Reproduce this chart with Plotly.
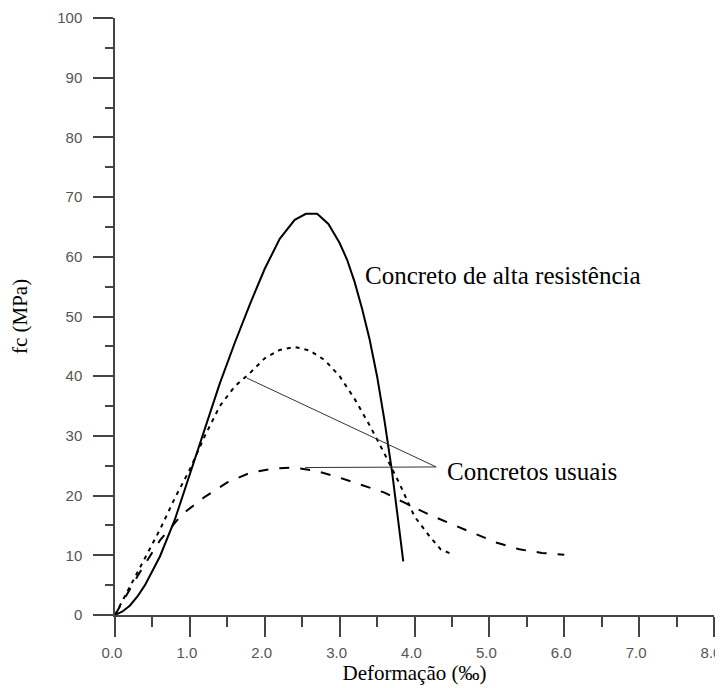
import plotly.graph_objects as go

# Concreto de alta resistência (solid)
high_x = [0.0, 0.1, 0.2, 0.3, 0.4, 0.6, 0.8, 1.0, 1.2, 1.4, 1.6, 1.8, 2.0, 2.2, 2.4, 2.55, 2.7,
          2.85, 3.0, 3.1, 3.2, 3.3, 3.4, 3.5, 3.6, 3.7, 3.78, 3.85]
high_y = [0.0, 0.6, 1.6, 3.1, 5.0, 9.8, 16.0, 23.5, 31.2, 38.8, 45.6, 52.0, 58.0, 63.0, 66.2, 67.2, 67.2,
          65.5, 62.3, 59.5, 55.8, 51.3, 46.2, 40.0, 32.5, 24.0, 16.0, 9.0]

# Concreto usual ~45 MPa (dotted)
mid_x = [0.0, 0.2, 0.4, 0.6, 0.8, 1.0, 1.2, 1.4, 1.6, 1.8, 2.0, 2.2, 2.4, 2.6, 2.8,
         3.0, 3.2, 3.4, 3.6, 3.8, 4.0, 4.2, 4.35, 4.5]
mid_y = [0.0, 4.7, 9.4, 14.3, 19.6, 24.4, 30.0, 35.0, 38.3, 40.5, 43.0, 44.4, 44.9, 44.3, 42.7,
         40.0, 36.2, 31.8, 27.0, 22.0, 16.5, 13.2, 11.0, 10.2]

# Concreto usual ~25 MPa (dashed)
low_x = [0.0, 0.3, 0.6, 0.9, 1.2, 1.5, 1.8, 2.1, 2.4, 2.7, 3.0, 3.3, 3.6, 3.9, 4.2,
         4.5, 4.8, 5.1, 5.4, 5.7, 6.0]
low_y = [0.0, 6.5, 12.5, 16.9, 19.8, 22.2, 23.8, 24.5, 24.7, 24.1, 23.0, 21.8, 20.5, 18.6, 16.8,
         15.2, 13.6, 12.1, 11.0, 10.4, 10.1]

# Leader lines for "Concretos usuais"
leader1_x = [1.76, 4.29]
leader1_y = [39.7, 24.8]
leader2_x = [2.54, 4.29]
leader2_y = [24.7, 24.8]

label_high = "Concreto de alta resistência"
label_high_pos = (3.31, 56.8)
label_usual = "Concretos usuais"
label_usual_pos = (4.41, 24.0)

x_title = "Deformação (‰)"
y_title = "fc (MPa)"

fig = go.Figure()
fig.add_trace(go.Scatter(x=high_x, y=high_y, mode="lines",
                         line=dict(color="black", width=2), showlegend=False))
fig.add_trace(go.Scatter(x=mid_x, y=mid_y, mode="lines",
                         line=dict(color="black", width=2, dash="4px,5px"), showlegend=False))
fig.add_trace(go.Scatter(x=low_x, y=low_y, mode="lines",
                         line=dict(color="black", width=2, dash="10px,11px"), showlegend=False))
fig.add_trace(go.Scatter(x=leader1_x, y=leader1_y, mode="lines",
                         line=dict(color="#333333", width=1), showlegend=False))
fig.add_trace(go.Scatter(x=leader2_x, y=leader2_y, mode="lines",
                         line=dict(color="#333333", width=1), showlegend=False))

serif = "Liberation Serif, Times New Roman, serif"
tickfont = dict(family="Liberation Sans, Arial, sans-serif", size=15, color="#555555")

fig.add_annotation(x=label_high_pos[0], y=label_high_pos[1], text=label_high,
                   showarrow=False, xanchor="left", yanchor="middle",
                   font=dict(family=serif, size=25, color="black"))
fig.add_annotation(x=label_usual_pos[0], y=label_usual_pos[1], text=label_usual,
                   showarrow=False, xanchor="left", yanchor="middle",
                   font=dict(family=serif, size=25, color="black"))

axis_common = dict(showline=True, linecolor="#444444", linewidth=1.5,
                   ticks="outside", tickcolor="#444444", tickwidth=1.5, ticklen=20,
                   showgrid=False, zeroline=False, automargin=False,
                   tickfont=tickfont)

fig.update_xaxes(range=[0, 8], dtick=1, tick0=0, tickformat=".1f",
                 ticklabelstandoff=3, ticklabelshift=-3,
                 minor=dict(dtick=0.5, ticks="outside", ticklen=10, tickcolor="#444444",
                            tickwidth=1.5, showgrid=False),
                 title=dict(text=x_title, font=dict(family=serif, size=21, color="black"),
                            standoff=0),
                 **axis_common)
fig.update_yaxes(range=[0, 100], dtick=10, tick0=0, ticklabelstandoff=8,
                 minor=dict(dtick=5, ticks="outside", ticklen=8, tickcolor="#444444",
                            tickwidth=1.5, showgrid=False),
                 title=dict(text=y_title, font=dict(family=serif, size=21, color="black"),
                            standoff=25),
                 **axis_common)

fig.update_layout(width=723, height=688, template="none",
                  margin=dict(l=107, r=17, t=10, b=81),
                  paper_bgcolor="white", plot_bgcolor="white",
                  showlegend=False)

fig.write_html("out.html")
